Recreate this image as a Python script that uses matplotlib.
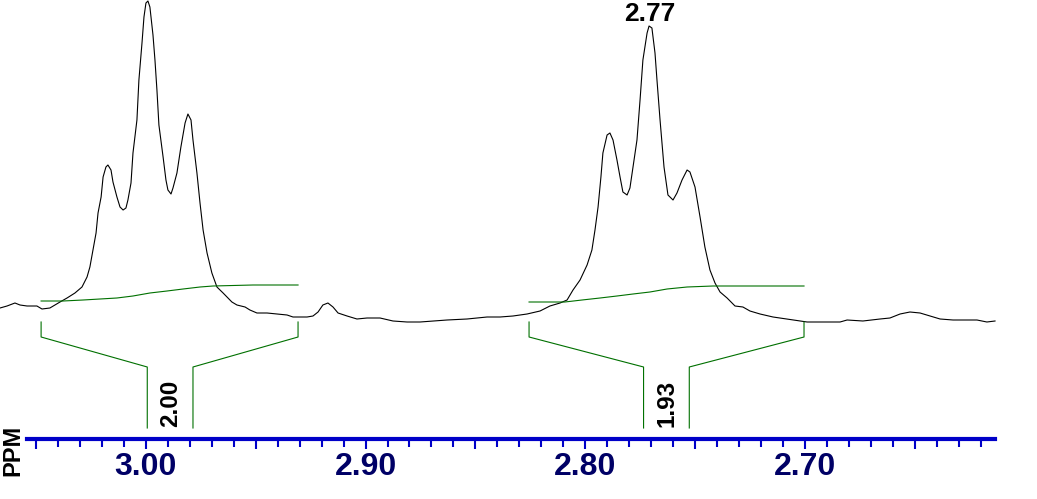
import numpy as np
import matplotlib
matplotlib.use('Agg')
import matplotlib.pyplot as plt
from matplotlib.ticker import FixedLocator, FuncFormatter

plt.rcParams['font.family'] = ['Liberation Sans', 'DejaVu Sans']

# spectrum trace (ppm, intensity)
ppm = [3.0663, 3.0631, 3.0595, 3.0572, 3.0540, 3.0495, 3.0472, 3.0436, 3.0413, 3.0390,
       3.0358, 3.0322, 3.0290, 3.0267, 3.0254, 3.0240, 3.0226, 3.0217, 3.0203, 3.0194,
       3.0181, 3.0172, 3.0158, 3.0149, 3.0131, 3.0117, 3.0103, 3.0090, 3.0081, 3.0067,
       3.0058, 3.0040, 3.0031, 3.0017, 3.0008, 2.9999, 2.9990, 2.9981, 2.9967, 2.9958,
       2.9949, 2.9940, 2.9921, 2.9908, 2.9899, 2.9885, 2.9876, 2.9858, 2.9840, 2.9821,
       2.9808, 2.9794, 2.9785, 2.9767, 2.9753, 2.9739, 2.9721, 2.9699, 2.9676, 2.9648,
       2.9608, 2.9585, 2.9548, 2.9526, 2.9494, 2.9448, 2.9403, 2.9357, 2.9330, 2.9266,
       2.9239, 2.9216, 2.9194, 2.9171, 2.9148, 2.9125, 2.9084, 2.9039, 2.8993, 2.8934,
       2.8875, 2.8811, 2.8752, 2.8693, 2.8629, 2.8538, 2.8447, 2.8388, 2.8329, 2.8265,
       2.8206, 2.8161, 2.8115, 2.8083, 2.8056, 2.8024, 2.7992, 2.7970, 2.7956, 2.7942,
       2.7929, 2.7920, 2.7901, 2.7888, 2.7874, 2.7856, 2.7842, 2.7829, 2.7810, 2.7797,
       2.7783, 2.7765, 2.7751, 2.7738, 2.7719, 2.7710, 2.7697, 2.7683, 2.7674, 2.7660,
       2.7642, 2.7624, 2.7601, 2.7583, 2.7560, 2.7537, 2.7524, 2.7501, 2.7478, 2.7456,
       2.7433, 2.7410, 2.7387, 2.7355, 2.7319, 2.7283, 2.7251, 2.7205, 2.7146, 2.7055,
       2.6991, 2.6941, 2.6841, 2.6809, 2.6737, 2.6659, 2.6614, 2.6568, 2.6523, 2.6477,
       2.6432, 2.6386, 2.6327, 2.6218, 2.6173, 2.6136]
intensity = [12, 14, 17, 15, 14, 14, 11, 12, 15, 18,
             22, 27, 33, 43, 53, 70, 87, 107, 123, 143,
             153, 155, 150, 138, 123, 113, 110, 112, 120, 137,
             167, 200, 240, 277, 303, 317, 319, 313, 285, 260,
             230, 195, 163, 140, 130, 126, 132, 147, 173, 197,
             206, 200, 180, 147, 117, 90, 67, 47, 33, 27,
             18, 15, 13, 10, 7, 7, 6, 5, 3, 3,
             4, 8, 15, 17, 13, 7, 4, 1, 2, 2,
             -1, -2, -2, -1, 0, 1, 3, 3, 4, 6,
             9, 14, 17, 20, 30, 40, 55, 70, 90, 113,
             143, 167, 185, 187, 180, 160, 143, 128, 125, 132,
             153, 180, 220, 260, 287, 294, 292, 267, 240, 200,
             153, 125, 120, 127, 140, 150, 148, 133, 103, 73,
             50, 37, 28, 22, 14, 13, 9, 6, 3, 0,
             -2, -2, -2, 0, -1, 1, 2, 6, 8, 7,
             4, 1, 0, 0, -2, -1]

# integral curves
int1_ppm = [3.0476, 3.0376, 3.0285, 3.0208, 3.0131, 3.0058, 2.9981, 2.9903, 2.9830, 2.9753, 2.9694, 2.9512, 2.9307]
int1_val = [19, 19, 20, 21, 22, 24, 27, 29, 31, 33, 34, 35, 35]
int2_ppm = [2.8256, 2.8093, 2.8015, 2.7933, 2.7856, 2.7783, 2.7706, 2.7628, 2.7537, 2.7419, 2.7005]
int2_val = [18, 18, 20, 22, 24, 26, 28, 31, 33, 34, 34]

# integral regions: (start, end, label centre, value text)
int_start = [3.0476, 2.8256]
int_end = [2.9307, 2.7005]
int_centre = [2.9889, 2.7631]
int_text = ['2.00', '1.93']

peak_ppm = 2.7706
peak_text = '2.77'

green = '#007000'

fig = plt.figure(figsize=(10.37, 4.99), dpi=100)
ax = fig.add_axes([0, 60 / 499, 1, 439 / 499])
ax.set_xlim(3.0663, 2.5945)
ax.set_ylim(-119, 320)

ax.plot(ppm, intensity, color='black', lw=0.8)
ax.plot(int1_ppm, int1_val, color=green, lw=0.8)
ax.plot(int2_ppm, int2_val, color=green, lw=0.8)

half = 0.0104
for s, e, c, t in zip(int_start, int_end, int_centre, int_text):
    ax.plot([s, s, c + half, c + half], [-2, -17, -47, -108], color=green, lw=0.8)
    ax.plot([e, e, c - half, c - half], [-2, -17, -47, -108], color=green, lw=0.8)
    ax.text(c - 0.0002, -83, t, rotation=90, ha='center', va='center',
            fontsize=17.5, fontweight='bold', color='black')

ax.text(peak_ppm, 299, peak_text, ha='center', va='baseline',
        fontsize=19, fontweight='bold', color='black')

for side in ['top', 'left', 'right']:
    ax.spines[side].set_visible(False)
ax.spines['bottom'].set_color('#0000c8')
ax.spines['bottom'].set_linewidth(3)
ax.spines['bottom'].set_bounds(3.054, 2.6136)
ax.set_yticks([])

major = [3.05, 3.00, 2.95, 2.90, 2.85, 2.80, 2.75, 2.70, 2.65]
minor = list(np.round(np.arange(2.62, 3.055, 0.01), 2))
ax.xaxis.set_major_locator(FixedLocator(major))
ax.xaxis.set_minor_locator(FixedLocator(minor))
ax.xaxis.set_major_formatter(FuncFormatter(
    lambda v, p: f'{v:.2f}' if int(round(v * 100)) % 10 == 0 else ''))
ax.tick_params(axis='x', which='major', length=7.5, width=1.5, color='#0000c8',
               labelsize=23, labelcolor='#000066', pad=2)
ax.tick_params(axis='x', which='minor', length=6, width=1.5, color='#0000c8')
for lab in ax.get_xticklabels():
    lab.set_fontweight('bold')

fig.text(13 / 1037, 1 - 450 / 499, 'PPM', rotation=90, ha='center', va='center',
         fontsize=17, fontweight='bold', color='black')

fig.savefig('out.png', dpi=100, facecolor='white')
